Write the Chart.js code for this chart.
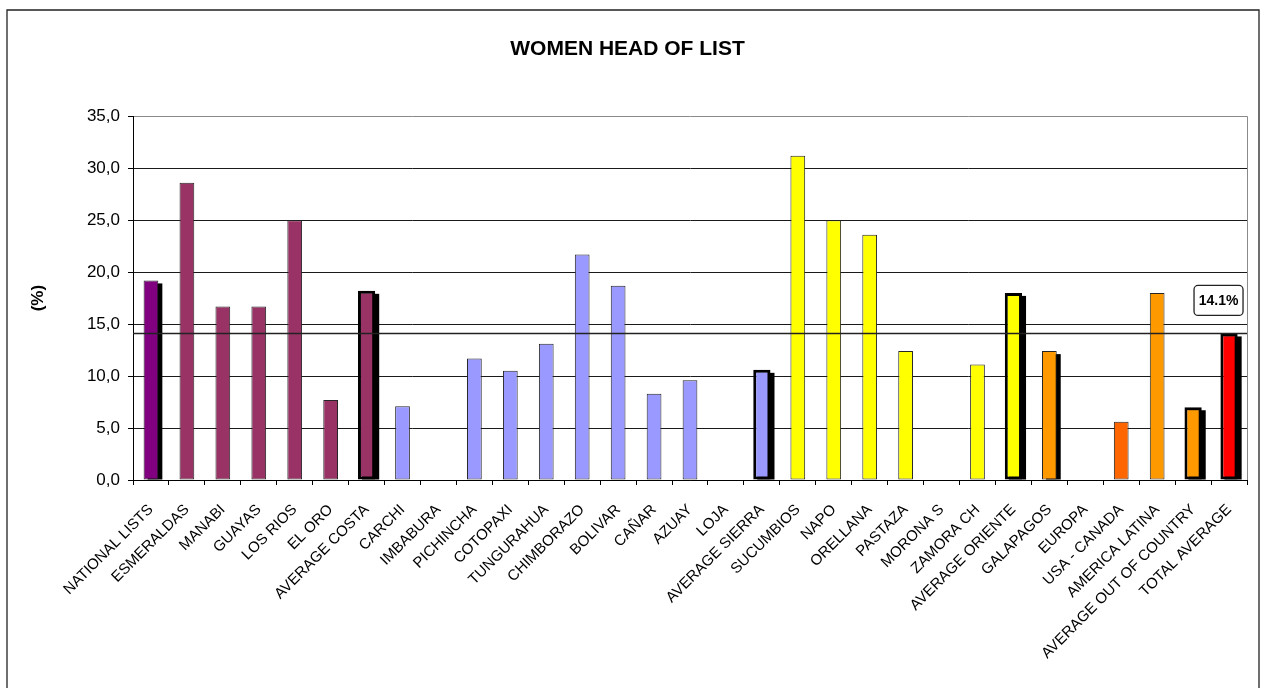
<!DOCTYPE html>
<html>
<head>
<meta charset="utf-8">
<title>Women head of list</title>
<script src="https://cdn.jsdelivr.net/npm/chart.js@4.4.1/dist/chart.umd.min.js"></script>
<style>
  html, body { margin: 0; padding: 0; background: #fff; }
  #wrap { width: 1265px; height: 688px; position: relative; }
</style>
</head>
<body>
<div id="wrap"><canvas id="chart"></canvas></div>
<script>
// share of lists headed by women, per province / region (%)
const categories = [
  'NATIONAL LISTS', 'ESMERALDAS', 'MANABI', 'GUAYAS', 'LOS RIOS', 'EL ORO', 'AVERAGE COSTA',
  'CARCHI', 'IMBABURA', 'PICHINCHA', 'COTOPAXI', 'TUNGURAHUA', 'CHIMBORAZO', 'BOLIVAR',
  'CAÑAR', 'AZUAY', 'LOJA', 'AVERAGE SIERRA',
  'SUCUMBIOS', 'NAPO', 'ORELLANA', 'PASTAZA', 'MORONA S', 'ZAMORA CH', 'AVERAGE ORIENTE',
  'GALAPAGOS', 'EUROPA', 'USA - CANADA', 'AMERICA LATINA', 'AVERAGE OUT OF COUNTRY', 'TOTAL AVERAGE'
];
const shares = [
  19.2, 28.6, 16.7, 16.7, 25.0, 7.7, 18.2,
  7.1, 0, 11.7, 10.5, 13.1, 21.7, 18.7,
  8.3, 9.6, 0, 10.6,
  31.2, 25.0, 23.6, 12.4, 0, 11.1, 18.0,
  12.4, 0, 5.6, 18.0, 7.0, 14.1
];
const regions = [
  'national', 'costa', 'costa', 'costa', 'costa', 'costa', 'costa',
  'sierra', 'sierra', 'sierra', 'sierra', 'sierra', 'sierra', 'sierra',
  'sierra', 'sierra', 'sierra', 'sierra',
  'oriente', 'oriente', 'oriente', 'oriente', 'oriente', 'oriente', 'oriente',
  'galapagos', 'abroad', 'northAmerica', 'abroad', 'abroad', 'total'
];
const totalAverage = 14.1;
const yTicks = [0, 5, 10, 15, 20, 25, 30, 35];

// averages get the heavy outline; these plus the two lone rows get a drop shadow
const summaryRows = ['AVERAGE COSTA', 'AVERAGE SIERRA', 'AVERAGE ORIENTE', 'AVERAGE OUT OF COUNTRY', 'TOTAL AVERAGE'];
const shadowRows = ['NATIONAL LISTS', 'GALAPAGOS', ...summaryRows];

const regionColors = {
  national: '#800080',
  costa: '#993366',
  sierra: '#9999FF',
  oriente: '#FFFF00',
  galapagos: '#FF9900',
  abroad: '#FF9900',
  northAmerica: '#FF6600',
  total: '#FF0000'
};

const FONT = 'Arial, "Liberation Sans", sans-serif';
const isSummary = (i) => summaryRows.includes(categories[i]);

const chartDecor = {
  id: 'chartDecor',
  beforeDraw(chart) {
    const c = chart.ctx;
    c.save();
    c.fillStyle = '#fff';
    c.fillRect(0, 0, chart.width, chart.height);
    // outer frame (open at the bottom edge of the page)
    c.strokeStyle = '#222';
    c.lineWidth = 1.3;
    c.beginPath();
    c.moveTo(7, chart.height + 2);
    c.lineTo(7, 10);
    c.lineTo(1259, 10);
    c.lineTo(1259, chart.height + 2);
    c.stroke();
    c.restore();
  },
  beforeDatasetsDraw(chart) {
    const c = chart.ctx;
    const area = chart.chartArea;
    c.save();
    // plot area right edge
    c.strokeStyle = '#8a8a8a';
    c.lineWidth = 1;
    c.beginPath();
    c.moveTo(Math.round(area.right) + 0.5, area.top);
    c.lineTo(Math.round(area.right) + 0.5, area.bottom);
    c.stroke();
    // drop shadows behind the highlighted bars
    c.fillStyle = '#000';
    [0, 1].forEach((di) => {
      chart.getDatasetMeta(di).data.forEach((bar, i) => {
        if (!shadowRows.includes(categories[i])) return;
        const v = chart.data.datasets[di].data[i];
        if (v == null) return;
        const p = bar.getProps(['x', 'y', 'base', 'width'], true);
        c.fillRect(p.x - p.width / 2 + 4, p.y + 3, p.width, p.base - p.y - 3);
      });
    });
    c.restore();
  },
  afterDatasetsDraw(chart) {
    const c = chart.ctx;
    const xs = chart.scales.x;
    const ys = chart.scales.y;
    const last = categories.length - 1;
    const cx = xs.getPixelForValue(last) - 10.5;
    const cy = ys.getPixelForValue(totalAverage) - 33;
    const w = 49, h = 30;
    c.save();
    c.fillStyle = '#fff';
    c.strokeStyle = '#222';
    c.lineWidth = 1.3;
    c.beginPath();
    c.roundRect(cx - w / 2, cy - h / 2, w, h, 4);
    c.fill();
    c.stroke();
    c.fillStyle = '#000';
    c.font = 'bold 14px ' + FONT;
    c.textAlign = 'center';
    c.textBaseline = 'middle';
    c.fillText(totalAverage.toFixed(1) + '%', cx, cy + 1);
    c.restore();
  }
};

const config = {
  data: {
    labels: categories,
    datasets: [
      {
        type: 'bar',
        data: shares.map((v, i) => (isSummary(i) ? null : v)),
        backgroundColor: regions.map((r) => regionColors[r]),
        borderColor: '#262626',
        borderWidth: 1,
        borderSkipped: false,
        barPercentage: 0.41,
        categoryPercentage: 1,
        grouped: false,
        order: 2
      },
      {
        type: 'bar',
        data: shares.map((v, i) => (isSummary(i) ? v : null)),
        backgroundColor: regions.map((r) => regionColors[r]),
        borderColor: '#000',
        borderWidth: 3,
        borderSkipped: false,
        barPercentage: 0.48,
        categoryPercentage: 1,
        grouped: false,
        order: 1
      },
      {
        // overall average across the full plot width
        type: 'line',
        xAxisID: 'xLine',
        data: [{ x: 0, y: totalAverage }, { x: 1, y: totalAverage }],
        borderColor: '#222',
        borderWidth: 1.5,
        pointRadius: 0,
        fill: false,
        order: 0
      }
    ]
  },
  options: {
    responsive: true,
    maintainAspectRatio: false,
    animation: false,
    layout: { padding: { top: 0, left: 8, right: 18, bottom: 0 } },
    plugins: {
      legend: { display: false },
      tooltip: { enabled: false },
      title: {
        display: true,
        text: 'WOMEN HEAD OF LIST',
        color: '#000',
        font: { family: FONT, size: 21, weight: 'bold' },
        padding: { top: 37, bottom: 54 }
      }
    },
    scales: {
      x: {
        type: 'category',
        offset: true,
        ticks: {
          autoSkip: false,
          minRotation: 45,
          maxRotation: 45,
          padding: 16,
          color: '#000',
          font: { family: FONT, size: 15 }
        },
        grid: { display: true, drawOnChartArea: false, drawTicks: true, tickLength: 5, color: '#000', offset: true },
        border: { color: '#000', width: 1 },
        afterFit(scale) { scale.height = 208; }
      },
      xLine: { type: 'linear', min: 0, max: 1, display: false },
      y: {
        min: 0,
        max: 35,
        afterBuildTicks(scale) { scale.ticks = yTicks.map((v) => ({ value: v })); },
        ticks: {
          padding: 8,
          color: '#000',
          font: { family: FONT, size: 17 },
          callback: (v) => Number(v).toFixed(1).replace('.', ',')
        },
        grid: {
          color: (ctx) => (ctx.tick && ctx.tick.value === 35 ? '#8a8a8a' : '#1a1a1a'),
          tickColor: '#000',
          tickLength: 5,
          lineWidth: 1
        },
        border: { color: '#000', width: 1 },
        title: {
          display: true,
          text: '(%)',
          color: '#000',
          font: { family: FONT, size: 17, weight: 'bold' },
          padding: { top: 20, bottom: 0 }
        },
        afterFit(scale) { scale.width = 125; }
      }
    }
  },
  plugins: [chartDecor]
};

const chart = new Chart(document.getElementById('chart').getContext('2d'), config);
</script>
</body>
</html>
